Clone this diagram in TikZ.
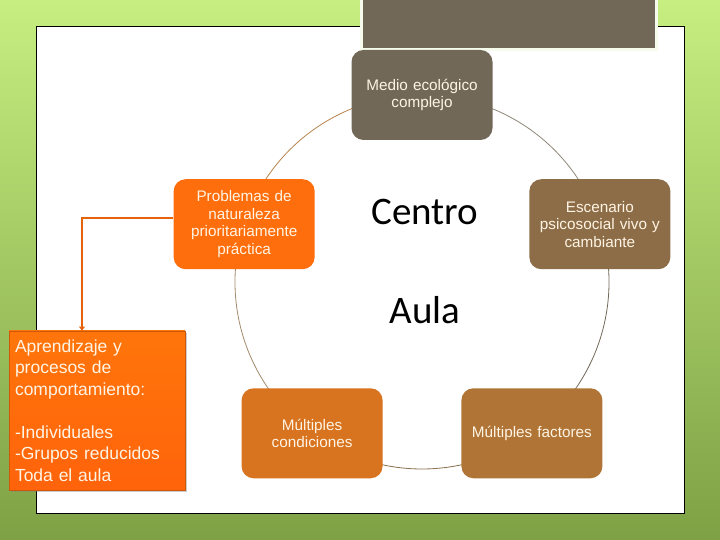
\documentclass[tikz,border=0pt]{standalone}
\usepackage{fontspec}
\setmainfont{Liberation Sans}
\newfontfamily\carlito{Carlito}
\usepackage{xcolor}
\usepackage{tikz}
\usetikzlibrary{arrows.meta,positioning,shadows}

\definecolor{fondoA}{HTML}{C6EE80}
\definecolor{fondoB}{HTML}{7EA145}
\definecolor{grisCafe}{HTML}{726858}
\definecolor{cafe}{HTML}{8C6D47}
\definecolor{ocre}{HTML}{B07536}
\definecolor{naranjaOsc}{HTML}{D8731F}
\definecolor{naranja}{HTML}{FF6E0C}
\definecolor{textoClaro}{HTML}{FFF4E4}

\begin{document}
\begin{tikzpicture}[x=1pt,y=1pt,
        ciclo/.style={
            rectangle, rounded corners=12pt,
            minimum width=141pt, minimum height=90pt,
            text width=132pt, align=center, inner sep=2pt,
            text=textoClaro, font=\fontsize{15.3}{17.5}\selectfont
        },
        arco/.style={line width=0.8pt},
        grande/.style={font=\carlito\fontsize{39}{40}\selectfont}
    ]

    \useasboundingbox (0,0) rectangle (720,540);
    \clip (0,0) rectangle (720,540);

    % fondo verde y hoja blanca
    \shade[top color=fondoA, bottom color=fondoB] (0,0) rectangle (720,540);
    \draw[fill=white, draw=black, line width=0.8pt] (36,27) rectangle (684,514);
    \draw[fill=grisCafe, draw=white!85!fondoA, line width=3pt] (361,490) rectangle (656,548);

    % centro del ciclo (radio 187)
    \coordinate (eje) at (422,258);

    % arcos del ciclo (quedan debajo de los nodos)
    \draw[arco, draw=grisCafe!80] ([shift={(90:187)}]eje) arc[start angle=90, end angle=18, radius=187];
    \draw[arco, draw=grisCafe] ([shift={(18:187)}]eje) arc[start angle=18, end angle=-54, radius=187];
    \draw[arco, draw=cafe!90!gray] ([shift={(-54:187)}]eje) arc[start angle=-54, end angle=-126, radius=187];
    \draw[arco, draw=cafe!80] ([shift={(-126:187)}]eje) arc[start angle=-126, end angle=-198, radius=187];
    \draw[arco, draw=ocre!90] ([shift={(162:187)}]eje) arc[start angle=162, end angle=90, radius=187];

    % nodos del ciclo
    \node[ciclo, fill=grisCafe] (medio) at ([shift={(90:187)}]eje) {Medio ecológico\\complejo};
    \node[ciclo, fill=cafe] (escenario) at ([shift={(18:187)}]eje) {Escenario\\psicosocial vivo y\\cambiante};
    \node[ciclo, fill=ocre] (factores) at ([shift={(-54:187)}]eje) {Múltiples factores};
    \node[ciclo, fill=naranjaOsc] (condiciones) at ([shift={(-126:187)}]eje) {Múltiples\\condiciones};
    \node[ciclo, fill=naranja] (problemas) at ([shift={(162:187)}]eje) {Problemas de\\naturaleza\\prioritariamente\\práctica};

    \node[grande] (centro) at (425,328) {Centro};
    \node[grande] (aula) at (425,230) {Aula};

    % caja de la izquierda
    \node[rectangle, draw=naranja!80!black, line width=0.8pt,
        top color=naranja!95!yellow, bottom color=naranja!90!red,
        drop shadow={shadow xshift=2pt, shadow yshift=-2pt, opacity=0.4},
        minimum width=176pt, minimum height=159pt,
        text width=164pt, align=left, inner xsep=6pt,
        text=textoClaro, font=\fontsize{17.5}{21.5}\selectfont]
        (aprendizaje) at (97,129.5) {Aprendizaje y\\procesos de\\comportamiento:\\[21.5pt]-Individuales\\-Grupos reducidos\\Toda el aula};

    % flecha hacia la caja
    \draw[line width=1.6pt, draw=naranja!90!black, -{Triangle[width=6pt,length=4pt]}]
        ([yshift=6pt]problemas.west) -| ([xshift=-15pt]aprendizaje.north);

\end{tikzpicture}
\end{document}
